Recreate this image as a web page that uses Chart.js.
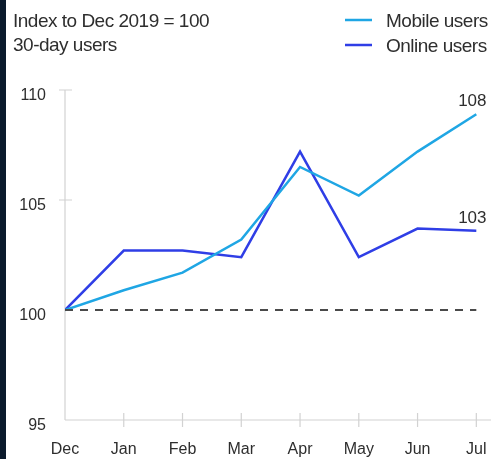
<!DOCTYPE html>
<html>
<head>
<meta charset="utf-8">
<script src="https://cdn.jsdelivr.net/npm/chart.js@4.4.1/dist/chart.umd.min.js"></script>
<style>
    html, body { margin: 0; padding: 0; background: #fff; }
    #wrap { position: relative; width: 495px; height: 459px; overflow: hidden; }
    #edge { position: absolute; left: 0; top: 0; width: 6px; height: 459px; background: #0b1a2c; }
    canvas { position: absolute; left: 0; top: 0; }
</style>
</head>
<body>
<div id="wrap">
    <canvas id="usersChart" width="495" height="459"></canvas>
    <div id="edge"></div>
</div>
<script>
// Monthly index values, Dec 2019 = 100
const months = ['Dec', 'Jan', 'Feb', 'Mar', 'Apr', 'May', 'Jun', 'Jul'];
const mobileUsers = [100, 100.9, 101.7, 103.2, 106.5, 105.2, 107.2, 108.9];
const onlineUsers = [100, 102.7, 102.7, 102.4, 107.2, 102.4, 103.7, 103.6];
const baseline = 100;
const yTicks = [95, 100, 105, 110];

const titleLines = ['Index to Dec 2019 = 100', '30-day users'];
const MOBILE_COLOR = '#1fa6e4';
const ONLINE_COLOR = '#2f3ee6';
const TEXT_COLOR = '#2e2e2e';
const AXIS_COLOR = '#d2d2d2';
const FONT = "'Liberation Sans', Arial, sans-serif";

const toPoints = arr => arr.map((v, i) => ({ x: i, y: v }));

// Header text, legend, axis lines and end-of-line value labels
const decorations = {
    id: 'decorations',
    beforeDatasetsDraw(chart) {
        const { ctx, chartArea, scales } = chart;
        const x = scales.x, y = scales.y;
        ctx.save();
        ctx.strokeStyle = AXIS_COLOR;
        ctx.lineWidth = 1.2;
        ctx.beginPath();
        // y axis + ticks
        ctx.moveTo(chartArea.left, chartArea.top);
        ctx.lineTo(chartArea.left, chartArea.bottom);
        yTicks.filter(t => t > baseline).forEach(t => {
            const py = y.getPixelForValue(t);
            ctx.moveTo(chartArea.left - 6, py);
            ctx.lineTo(chartArea.left + 7, py);
        });
        // x axis + ticks
        ctx.moveTo(chartArea.left, chartArea.bottom);
        ctx.lineTo(chartArea.right, chartArea.bottom);
        months.forEach((m, i) => {
            if (i === 0) return;
            const px = x.getPixelForValue(i);
            ctx.moveTo(px, chartArea.bottom - 7);
            ctx.lineTo(px, chartArea.bottom + 7);
        });
        ctx.stroke();
        ctx.restore();
    },
    afterDraw(chart) {
        const { ctx } = chart;
        ctx.save();
        ctx.fillStyle = TEXT_COLOR;
        ctx.font = '19px ' + FONT;
        ctx.letterSpacing = '-0.5px';
        ctx.textAlign = 'left';
        ctx.textBaseline = 'alphabetic';
        ctx.fillText(titleLines[0], 13, 26.5);
        ctx.fillText(titleLines[1], 13, 50.5);

        // legend
        chart.data.datasets.filter(d => d.inLegend).forEach((d, i) => {
            const base = 27 + i * 25;
            ctx.strokeStyle = d.borderColor;
            ctx.lineWidth = 2.5;
            ctx.beginPath();
            ctx.moveTo(345, base - 7);
            ctx.lineTo(372, base - 7);
            ctx.stroke();
            ctx.fillStyle = TEXT_COLOR;
            ctx.fillText(d.label, 386, base);
        });

        // value labels at the last point of each series
        ctx.letterSpacing = '0px';
        ctx.font = '17px ' + FONT;
        ctx.textAlign = 'center';
        ctx.textBaseline = 'bottom';
        chart.data.datasets.forEach((d, di) => {
            if (!d.inLegend) return;
            const meta = chart.getDatasetMeta(di);
            const last = meta.data[meta.data.length - 1];
            const value = d.data[d.data.length - 1].y;
            ctx.fillText(String(Math.floor(value)), last.x - 4, last.y - 4);
        });
        ctx.restore();
    }
};

new Chart(document.getElementById('usersChart'), {
    type: 'line',
    data: {
        datasets: [
            {
                label: 'Baseline',
                data: [{ x: 0, y: baseline }, { x: months.length - 1, y: baseline }],
                borderColor: '#4a4a4a',
                borderWidth: 2,
                borderDash: [8, 7],
                pointRadius: 0,
                inLegend: false
            },
            {
                label: 'Mobile users',
                data: toPoints(mobileUsers),
                borderColor: MOBILE_COLOR,
                borderWidth: 2.5,
                pointRadius: 0,
                tension: 0,
                inLegend: true
            },
            {
                label: 'Online users',
                data: toPoints(onlineUsers),
                borderColor: ONLINE_COLOR,
                borderWidth: 2.5,
                pointRadius: 0,
                tension: 0,
                inLegend: true
            }
        ]
    },
    options: {
        responsive: false,
        animation: false,
        layout: { padding: { top: 90, right: 4, bottom: 0, left: 0 } },
        plugins: { legend: { display: false }, tooltip: { enabled: false } },
        scales: {
            x: {
                type: 'linear',
                min: 0,
                max: months.length - 0.75,
                grid: { display: false, drawTicks: false },
                border: { display: false },
                afterFit: s => {
                    s.height = 39;
                    s.paddingLeft = 0;
                    s.paddingRight = 0;
                },
                ticks: {
                    stepSize: 1,
                    includeBounds: false,
                    autoSkip: false,
                    maxRotation: 0,
                    padding: 20,
                    color: TEXT_COLOR,
                    font: { family: FONT, size: 16 },
                    callback: v => months[v]
                }
            },
            y: {
                min: 95,
                max: 110,
                grid: { display: false, drawTicks: false },
                border: { display: false },
                afterFit: s => { s.width = 65; },
                afterBuildTicks: s => { s.ticks = yTicks.map(v => ({ value: v })); },
                ticks: {
                    padding: 19,
                    labelOffset: 6,
                    color: TEXT_COLOR,
                    font: { family: FONT, size: 16 }
                }
            }
        }
    },
    plugins: [decorations]
});
</script>
</body>
</html>
